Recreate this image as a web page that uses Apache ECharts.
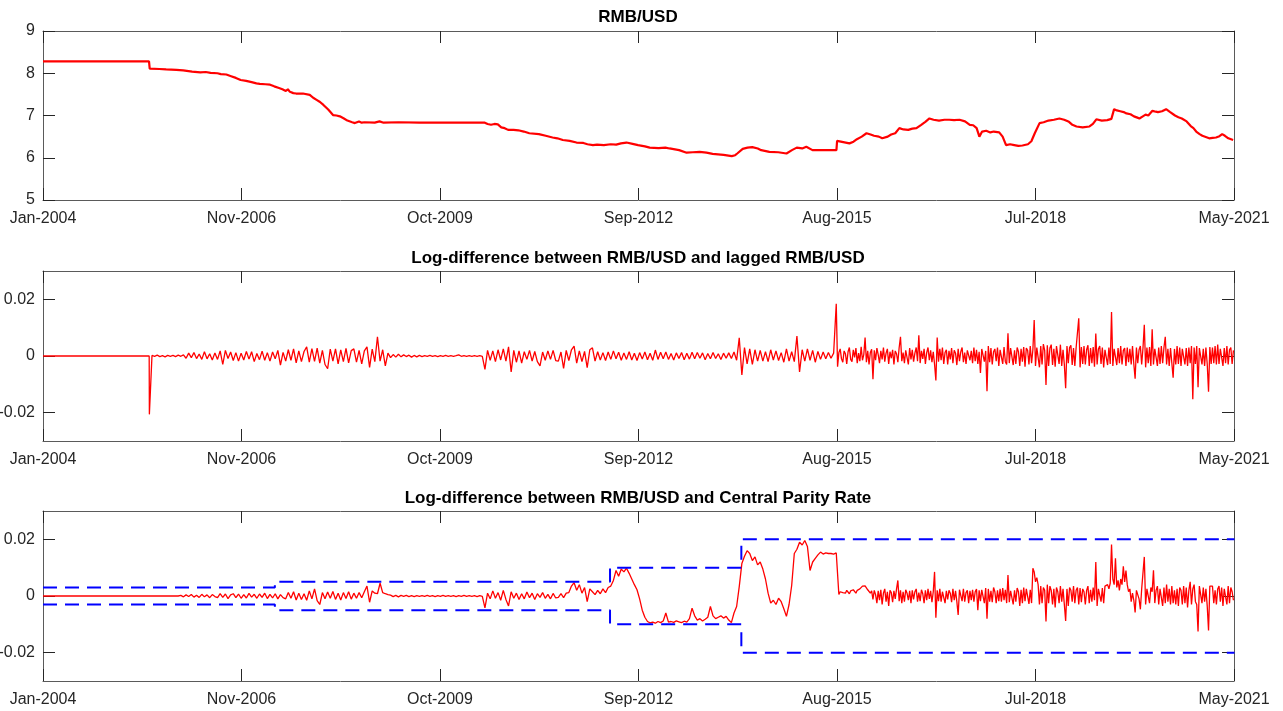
<!DOCTYPE html>
<html>
<head>
<meta charset="utf-8">
<title>RMB/USD</title>
<script src="https://cdn.jsdelivr.net/npm/echarts@6/dist/echarts.min.js"></script>
<style>
  html, body { margin: 0; padding: 0; background: #fff; }
  #chart { width: 1283px; height: 711px; }
</style>
</head>
<body>
<div id="chart"></div>
<script>
const titles = [
  'RMB/USD',
  'Log-difference between RMB/USD and lagged RMB/USD',
  'Log-difference between RMB/USD and Central Parity Rate'
]
const monthNames = ['Jan', 'Feb', 'Mar', 'Apr', 'May', 'Jun', 'Jul', 'Aug', 'Sep', 'Oct', 'Nov', 'Dec']
const xTickDays = [0, 1060, 2120, 3180, 4240, 5300, 6360]   // days since 2004-01-01
const rateTicks = [5, 6, 7, 8, 9]
const diffTicks = [-0.02, 0, 0.02]

// RMB/USD level: [decimal year, rate]
const rmbPoints = [
  [2004.00, 8.28], [2005.55, 8.28], [2005.56, 8.11], [2005.70, 8.10], [2005.80, 8.09], [2005.95, 8.08],
  [2006.05, 8.07], [2006.18, 8.04], [2006.30, 8.02], [2006.38, 8.03], [2006.45, 8.01], [2006.55, 8.00],
  [2006.60, 7.98], [2006.68, 7.97], [2006.75, 7.93], [2006.82, 7.89], [2006.89, 7.84], [2006.97, 7.82],
  [2007.05, 7.79], [2007.12, 7.76], [2007.17, 7.75], [2007.25, 7.74], [2007.32, 7.73], [2007.38, 7.69],
  [2007.45, 7.65], [2007.50, 7.62], [2007.55, 7.58], [2007.58, 7.62], [2007.61, 7.56], [2007.66, 7.53],
  [2007.70, 7.52], [2007.80, 7.52], [2007.90, 7.49], [2007.95, 7.42], [2008.00, 7.37], [2008.05, 7.32],
  [2008.10, 7.25], [2008.17, 7.14], [2008.24, 7.01], [2008.29, 7.00], [2008.34, 6.98], [2008.40, 6.93],
  [2008.45, 6.88], [2008.52, 6.84], [2008.56, 6.82], [2008.62, 6.86], [2008.66, 6.83], [2008.70, 6.84],
  [2008.85, 6.83], [2008.92, 6.86], [2008.98, 6.83], [2009.20, 6.84], [2009.50, 6.83], [2009.90, 6.83],
  [2010.46, 6.83], [2010.50, 6.80], [2010.55, 6.78], [2010.60, 6.80], [2010.65, 6.79], [2010.70, 6.72],
  [2010.75, 6.70], [2010.80, 6.66], [2010.82, 6.69], [2010.88, 6.66], [2010.95, 6.65], [2011.03, 6.62],
  [2011.11, 6.58], [2011.25, 6.56], [2011.35, 6.52], [2011.45, 6.48], [2011.52, 6.46], [2011.60, 6.42],
  [2011.70, 6.40], [2011.80, 6.36], [2011.90, 6.35], [2011.96, 6.32], [2012.04, 6.30], [2012.10, 6.31],
  [2012.20, 6.30], [2012.30, 6.32], [2012.38, 6.31], [2012.45, 6.34], [2012.53, 6.36], [2012.62, 6.33],
  [2012.70, 6.30], [2012.80, 6.27], [2012.87, 6.24], [2013.00, 6.23], [2013.10, 6.24], [2013.16, 6.22],
  [2013.30, 6.18], [2013.41, 6.12], [2013.50, 6.13], [2013.60, 6.14], [2013.70, 6.12], [2013.79, 6.09],
  [2013.95, 6.07], [2014.07, 6.04], [2014.12, 6.06], [2014.15, 6.10], [2014.23, 6.21], [2014.30, 6.24],
  [2014.37, 6.25], [2014.45, 6.22], [2014.50, 6.18], [2014.62, 6.14], [2014.75, 6.13], [2014.87, 6.10],
  [2014.95, 6.18], [2015.02, 6.24], [2015.10, 6.22], [2015.16, 6.26], [2015.25, 6.18], [2015.40, 6.18],
  [2015.60, 6.18], [2015.61, 6.40], [2015.70, 6.37], [2015.79, 6.34], [2015.85, 6.38], [2015.90, 6.44],
  [2015.97, 6.50], [2016.04, 6.58], [2016.10, 6.55], [2016.15, 6.52], [2016.22, 6.50], [2016.27, 6.46],
  [2016.35, 6.50], [2016.40, 6.55], [2016.46, 6.58], [2016.52, 6.70], [2016.58, 6.67], [2016.65, 6.66],
  [2016.71, 6.69], [2016.77, 6.70], [2016.84, 6.78], [2016.90, 6.85], [2016.96, 6.93], [2017.02, 6.90],
  [2017.10, 6.88], [2017.18, 6.90], [2017.25, 6.90], [2017.32, 6.89], [2017.40, 6.90], [2017.48, 6.86],
  [2017.55, 6.78], [2017.60, 6.77], [2017.65, 6.70], [2017.69, 6.50], [2017.73, 6.62], [2017.79, 6.64],
  [2017.85, 6.60], [2017.90, 6.62], [2017.98, 6.60], [2018.03, 6.50], [2018.08, 6.30], [2018.14, 6.32],
  [2018.20, 6.30], [2018.26, 6.28], [2018.32, 6.29], [2018.40, 6.32], [2018.45, 6.39], [2018.50, 6.58],
  [2018.57, 6.82], [2018.63, 6.84], [2018.70, 6.88], [2018.78, 6.90], [2018.86, 6.93], [2018.93, 6.90],
  [2019.00, 6.85], [2019.05, 6.78], [2019.11, 6.74], [2019.20, 6.72], [2019.30, 6.74], [2019.35, 6.80],
  [2019.40, 6.91], [2019.48, 6.88], [2019.56, 6.89], [2019.62, 6.92], [2019.66, 7.15], [2019.70, 7.12],
  [2019.75, 7.10], [2019.80, 7.08], [2019.84, 7.05], [2019.90, 7.03], [2019.95, 6.98], [2020.00, 6.95],
  [2020.03, 6.93], [2020.08, 6.98], [2020.12, 7.02], [2020.16, 7.00], [2020.22, 7.11], [2020.27, 7.09],
  [2020.30, 7.08], [2020.36, 7.10], [2020.42, 7.15], [2020.48, 7.08], [2020.55, 7.00], [2020.60, 6.96],
  [2020.65, 6.93], [2020.72, 6.86], [2020.78, 6.75], [2020.82, 6.70], [2020.86, 6.62], [2020.91, 6.56],
  [2020.95, 6.52], [2021.00, 6.49], [2021.05, 6.46], [2021.10, 6.47], [2021.15, 6.48], [2021.20, 6.51],
  [2021.24, 6.56], [2021.28, 6.52], [2021.33, 6.46], [2021.40, 6.42]
]

// both log-differences are zero before the July 2005 reform
const flatLead = ['2004-01-01', '2005-07-21']
// early part: one sample every 14 days from earlyStart (units of 1e-4)
const earlyStart = '2005-07-22'
const earlyStepDays = 14
// late part: one sample every 7 days from lateStart (units of 1e-4)
const lateStart = '2015-08-07'
const lateStepDays = 7

const lagDiffEarly = [
  -206, 2, -1, 3, -2, 1, -3, 2, -1, 2, -2, 3, -1, 4, -8, 10, -6, 12, -9, 7, -12, 15, -10, 8, -14, 11,
  -12, 18, -30, 20, -9, 14, -16, 12, -18, 10, -14, 16, -11, 15, -20, 9, -13, 17, -15, 12, -18, 14, -10, 20, -32, 13,
  -18, 22, -15, 25, -24, 18, -20, 16, 32, -22, 26, -19, 28, -25, 20, -30, -45, 24, -18, 25, -28, 22, -20, 27, -24, 19,
  25, -22, 20, -28, 18, 32, -40, 24, -20, 68, -18, 22, -35, 10, -6, 5, -4, 6, -3, 4, -2, 3, -4, 2, -3, 2,
  -2, 1, -1, 2, -1, 1, -2, 1, -1, 2, -1, 1, -1, 1, 4, -1, 1, -1, 1, -1, 1, -1, 1, -1, -47, 20,
  -15, 18, -20, 22, -14, 25, -18, 32, -56, 20, -22, 18, -25, 15, -12, 20, -18, 16, -20, -35, 14, -15, 18, -12, 20, -16,
  -18, 14, -44, 20, -16, 22, 35, -25, 18, -20, 16, -41, 22, 29, -18, 15, -14, 12, -16, 14, -12, 18, -10, 13, -15, 11,
  -12, 15, -14, 10, -16, 12, -11, 14, -13, 10, -15, 21, -12, 13, -10, 14, -12, 9, -14, 11, -9, 12, -13, 10, -11, 13,
  -10, 12, -8, 11, -13, 9, -10, 12, -9, 8, -12, 10, -8, 11, -9, 14, -15, 64, -67, 30, -28, 25, -30, 22, -18, 20,
  -18, 15, -20, 22, -14, 18, -16, 12, -22, 25, -18, 15, -20, 70, -56, 22, -18, 25, -15, 20, -22, 16, -12, 14, -10, 12,
  -8, 10
]
const lagDiffLate = [
  184, -38, 12, 25, -10, -22, 18, 8, -28, 15, 30, -12, -20, 22, -5, 28, -25, 10, -18, 32, -15, 5, 65, -22, 18, -30,
  12, 24, -82, 20, -15, 28, 5, -25, 18, -12, 30, -20, 10, 25, -28, 15, -8, 22, -30, 18, 8, -22, 30, 68, -18, 12,
  -25, 20, 15, -30, 28, -12, 22, -20, 10, 30, -18, 73, -25, 18, -10, 25, -28, 12, 30, -15, 20, -22, 15, -30, -86, 65,
  -20, 25, -15, 30, -28, 12, 22, -30, 18, -12, 28, -25, 20, 10, -32, 25, -18, 15, 30, -22, 12, -28, 20, 25, -15, 18,
  -25, 30, -18, 22, -28, 15, -60, 25, 30, -20, 18, -124, 35, -22, 28, -30, 15, 25, -18, 30, -35, 22, 18, -28, 32, -20,
  -30, 80, -25, 28, 35, -32, 20, -28, 30, 15, -35, 25, -20, 32, -38, 28, 20, -30, 35, -25, 22, 127, -35, 30, 25, -40,
  35, -30, 42, 20, -102, 38, -35, 28, 40, -32, 25, -38, 35, 30, -28, 40, -35, 22, -30, -114, 35, -25, 30, 38, -32, 28,
  -35, 30, 25, 133, -40, 32, -28, 35, -30, 22, 38, -35, 28, -25, 32, -38, 79, -30, 25, 35, -28, 30, -40, 22, 28, -32,
  30, -28, 155, -35, 25, 30, -32, 28, -25, 35, -30, 20, 28, -35, 30, -22, 25, -30, 35, -28, -80, 30, -25, 22, 35, -30,
  28, 110, -40, 30, -25, 32, -35, 94, -30, 25, 28, -35, 30, -28, 35, -25, 30, 68, -30, 25, -35, 28, 30, -77, 25, -30,
  35, -28, 30, -35, 25, 32, -30, 28, -35, 30, -25, 35, -153, 30, -28, 35, -110, 28, 32, -30, 25, -35, 30, -28, -126, 32,
  -28, 30, -25, 35, -30, 40, -28, 25, 30, -35, 28, -25, 35, -30, 22, 30, -28, 20
]

const parityDiffEarly = [
  0, 0, 0, 0, 0, 0, 0, 0, 0, 0, 0, 0, 2, -3, 4, -2, 5, -4, 3, -5, 6, -3, 4, -6, 5, -2,
  -6, 8, -5, 7, -9, 4, 8, -6, 7, -8, 5, -7, 9, -4, 6, -8, 7, -5, 10, -9, 6, -7, 8, -10, 5, -6,
  -10, 12, -8, 15, -14, 10, -12, 8, -15, 18, -10, 25, -16, -30, 12, -10, 14, -8, 16, -12, 10, -14, 12, -9, 15, -11,
  10, -8, 12, -6, 15, 35, -22, 18, 10, 8, 45, 12, 8, 5, 3, -2, 2, -3, 2, -1, 2, -2, 1, -2, 1, -1,
  1, -1, 2, -1, 1, -2, 1, -1, 2, -1, 1, -1, 1, -2, 1, -1, 2, -1, 1, -1, 1, -2, 1, -1, -42, 10,
  -10, 18, -8, 12, -15, 20, -12, -35, 15, -8, 10, -12, 8, -10, 14, -6, 10, -12, 8, -5, 12, -8, 6, -10, 9, -7,
  -5, 8, -6, 10, 12, 35, 47, 20, 40, 10, 30, -20, 25, 15, 5, 20, 8, 25, 12, 30, 35, 55, 90, 70, 95, 85,
  98, 80, 60, 40, 22, -10, -50, -75, -90, -95, -92, -96, -90, -94, -88, -60, -92, -90, -93, -88, -91, -94, -89, -92, -80, -43,
  -70, -85, -80, -88, -82, -75, -37, -70, -80, -75, -70, -78, -72, -85, -94, -60, -37, 33, 115, 140, 160, 150, 125, 138, 110, 120,
  95, 60, 10, -25, -15, -30, -8, -20, -45, -72, -30, 37, 150, 165, 190, 180, 196, 175, 90, 120, 133, 145, 155, 148, 152, 150,
  150, 148
]
const parityDiffLate = [
  152, 150, 5, 15, 8, 12, 18, 10, 20, 14, 8, 18, 12, 22, 15, 10, 20, 16, 25, 30, 35, 39, 36, 30, 22, 15,
  10, 18, -12, 20, 5, -25, 18, -15, 22, -30, 10, 25, -20, 15, -35, 20, 12, -22, 18, -10, 25, 55, -18, 20, -25, 15,
  -20, 22, 10, -15, 18, -25, 20, -12, 15, 25, -20, 12, -18, 22, 8, -25, 20, -15, 25, -10, 18, -22, 15, 85, -77, 20,
  -18, 25, -20, 15, 22, -25, 18, -12, 20, 10, -22, 25, -15, 18, -20, -67, 22, 15, -18, 25, -20, 12, 20, -25, 18, -15,
  22, -20, 15, 25, -50, 20, -18, 22, 15, -25, 28, -80, 25, -20, 18, -22, 30, 15, -25, 20, -18, 25, -20, 28, -15, 22,
  -25, 74, -22, 18, 25, -30, 20, -20, 28, 15, -35, 22, -25, 30, -18, 25, 20, -28, 22, -25, 98, 85, 50, 65, 40, -30,
  35, -25, 30, 20, -90, 40, -25, 35, 20, -30, 25, -40, 30, 15, -25, 35, -20, 25, -30, -88, 25, -35, 30, 20, -20, 35,
  -25, 20, 30, -30, 28, -22, 25, 15, -30, 20, 35, -25, 22, -20, 30, -15, 120, -35, 25, 30, -20, 28, -25, 35, 30, 40,
  25, 45, 182, 60, 40, 133, 30, 55, 20, 60, 40, 105, 50, 90, 40, 15, 25, -20, 10, -15, -58, 20, 15, -10, -47, 25,
  30, 138, -30, 25, 20, -25, 30, 15, 91, -25, 20, 35, -30, 25, 20, -35, 30, -25, 40, -20, 25, -30, 35, -25, 20, -30,
  25, -35, 30, 20, -30, 35, -25, 30, -40, 20, 50, -30, 25, 40, -20, -30, -125, 35, 40, -25, 30, -20, 25, -35, -122, 35,
  30, 35, -25, 20, -30, 25, 35, -20, 30, -35, 25, 20, -30, 35, -25, 30, 15, -15
]

// central parity band: start of each regime and its half width
const bandYears = [2004.0, 2007.39, 2012.29, 2014.21, 2021.42]
const bandWidths = [0.003, 0.005, 0.01, 0.02, 0.02]

const DAY = 864e5
const T0 = Date.UTC(2004, 0, 1)
const dayOfDate = s => (Date.parse(s) - T0) / DAY
const dayOfYear = y => (y - 2004) * 365.25

const rmbData = rmbPoints.map(p => [dayOfYear(p[0]), p[1]])
const lead = flatLead.map(s => [dayOfDate(s), 0])
const e0 = dayOfDate(earlyStart)
const l0 = dayOfDate(lateStart)
const sampled = (early, late) => lead
  .concat(early.map((v, i) => [e0 + i * earlyStepDays, v * 1e-4]))
  .concat(late.map((v, i) => [l0 + i * lateStepDays, v * 1e-4]))
const upperBand = bandYears.map((y, i) => [dayOfYear(y), bandWidths[i]])
const lowerBand = bandYears.map((y, i) => [dayOfYear(y), -bandWidths[i]])

const FONT = "'Liberation Sans', Arial, Helvetica, sans-serif"
const axisColor = '#5a5a5a'
const labelColor = '#262626'
const grids = [
  { left: 43, right: 49, top: 31, height: 169, outerBoundsMode: 'none', containLabel: false },
  { left: 43, right: 49, top: 271, height: 170, outerBoundsMode: 'none', containLabel: false },
  { left: 43, right: 49, top: 511, height: 170, outerBoundsMode: 'none', containLabel: false }
]
const titleTops = [9, 250, 490]

const dateLabel = v => {
  const d = new Date(T0 + Math.round(v) * DAY)
  return monthNames[d.getUTCMonth()] + '-' + d.getUTCFullYear()
}

const xAxes = []
const yAxes = []
grids.forEach((g, gi) => {
  ;['bottom', 'top'].forEach(pos => {
    xAxes.push({
      gridIndex: gi, type: 'value', position: pos,
      min: 0, max: 6360, interval: 1060,
      axisLine: { show: true, onZero: false, lineStyle: { color: axisColor, width: 1 } },
      axisTick: { show: true, inside: true, length: 12, customValues: xTickDays, lineStyle: { color: '#262626' } },
      axisLabel: {
        show: pos === 'bottom', customValues: xTickDays, formatter: dateLabel,
        color: labelColor, fontSize: 16, fontFamily: FONT, margin: 11
      },
      splitLine: { show: false }
    })
  })
  const ticks = gi === 0 ? rateTicks : diffTicks
  ;['left', 'right'].forEach(pos => {
    yAxes.push({
      gridIndex: gi, type: 'value', position: pos,
      min: gi === 0 ? 5 : -0.03, max: gi === 0 ? 9 : 0.03, interval: gi === 0 ? 1 : 0.01,
      axisLine: { show: true, onZero: false, lineStyle: { color: axisColor, width: 1 } },
      axisTick: { show: true, inside: true, length: 12, customValues: ticks, lineStyle: { color: '#262626' } },
      axisLabel: {
        show: pos === 'left', customValues: ticks,
        formatter: v => String(Math.round(v * 100) / 100),
        color: labelColor, fontSize: 16, fontFamily: FONT, margin: 8
      },
      splitLine: { show: false }
    })
  })
})

const chart = echarts.init(document.getElementById('chart'))
chart.setOption({
  animation: false,
  backgroundColor: '#fff',
  title: titles.map((t, i) => ({
    text: t, left: 638, top: titleTops[i], textAlign: 'center', padding: 0,
    textStyle: { fontSize: 17, fontWeight: 'bold', color: '#000', fontFamily: FONT }
  })),
  grid: grids,
  xAxis: xAxes,
  yAxis: yAxes,
  series: [
    {
      type: 'line', xAxisIndex: 0, yAxisIndex: 0, data: rmbData,
      showSymbol: false, symbol: 'none', lineStyle: { color: '#ff0000', width: 2.2 }
    },
    {
      type: 'line', xAxisIndex: 2, yAxisIndex: 2, data: sampled(lagDiffEarly, lagDiffLate),
      showSymbol: false, symbol: 'none', lineStyle: { color: '#ff0000', width: 1.3 }
    },
    {
      type: 'line', xAxisIndex: 4, yAxisIndex: 4, data: sampled(parityDiffEarly, parityDiffLate),
      showSymbol: false, symbol: 'none', lineStyle: { color: '#ff0000', width: 1.3 }
    },
    {
      type: 'line', xAxisIndex: 4, yAxisIndex: 4, data: upperBand, step: 'end',
      showSymbol: false, symbol: 'none', lineStyle: { color: '#0000ff', width: 2, type: [14, 8] }
    },
    {
      type: 'line', xAxisIndex: 4, yAxisIndex: 4, data: lowerBand, step: 'end',
      showSymbol: false, symbol: 'none', lineStyle: { color: '#0000ff', width: 2, type: [14, 8] }
    }
  ]
})
</script>
</body>
</html>
